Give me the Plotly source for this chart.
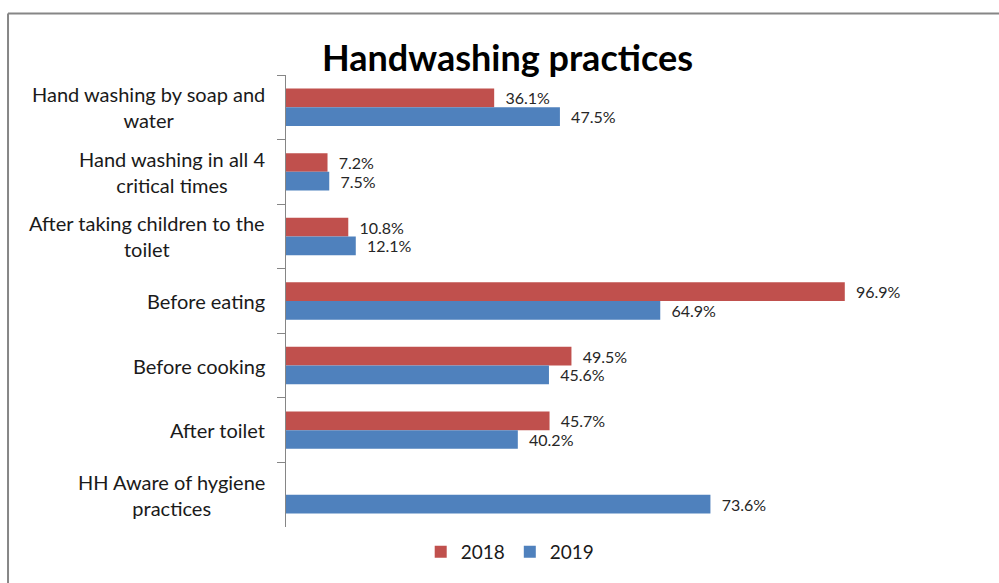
import plotly.graph_objects as go

categories = [
    "Hand washing by soap and<br>water",
    "Hand washing in all 4<br>critical times",
    "After taking children to the<br>toilet",
    "Before eating",
    "Before cooking",
    "After toilet",
    "HH Aware of hygiene<br>practices",
]
values_2018 = [36.1, 7.2, 10.8, 96.9, 49.5, 45.7, None]
values_2019 = [47.5, 7.5, 12.1, 64.9, 45.6, 40.2, 73.6]
series_names = ["2018", "2019"]
colors = ["#C0504D", "#4F81BD"]

FONT = "Lato"
NB = "\u00a0\u00a0"

T, B = 75, 52
PH = 583 - T - B

fig = go.Figure()
for name, vals, col in zip(series_names, [values_2018, values_2019], colors):
    fig.add_trace(go.Bar(
        y=categories, x=vals, name=name, orientation="h",
        marker=dict(color=col, line=dict(width=0)),
        texttemplate=NB + "%{x:.1f}%", textposition="outside",
        constraintext="none",
        textfont=dict(family=FONT, size=16, color="#262626"),
        cliponaxis=False,
    ))

annotations = []
for c in categories:
    annotations.append(dict(
        x=-0.028, xref="paper", y=c, yref="y", text=c, showarrow=False,
        xanchor="right", yanchor="middle", align="center",
        font=dict(family=FONT, size=20, color="#1a1a1a"),
    ))

fig.update_layout(
    width=999, height=583,
    margin=dict(l=286, r=21, t=T, b=B),
    paper_bgcolor="white", plot_bgcolor="white",
    barmode="group", bargap=0.42, bargroupgap=0,
    title=dict(text="<b>Handwashing practices</b>", x=0.508, xref="container",
               y=1 - 58 / 583, yref="container", xanchor="center", yanchor="middle",
               font=dict(family=FONT, size=36, color="black")),
    xaxis=dict(range=[0, 120], showgrid=False, showline=False, showticklabels=False,
               zeroline=False, ticks=""),
    yaxis=dict(autorange="reversed", showgrid=False, showline=True, linecolor="#868686",
               linewidth=1, ticks="outside", ticklen=8, tickcolor="#868686",
               tickson="boundaries", showticklabels=False),
    legend=dict(orientation="h", x=0.324, xanchor="center", y=-25 / PH, yanchor="middle",
                font=dict(family=FONT, size=19, color="#1a1a1a"),
                itemwidth=30, traceorder="normal"),
    annotations=annotations,
    shapes=[
        dict(type="line", xref="paper", yref="paper", x0=-0.4017, x1=1.2,
             y0=(583 - B - 13) / PH, y1=(583 - B - 13) / PH,
             line=dict(color="#868686", width=2)),
        dict(type="line", xref="paper", yref="paper", x0=-0.4017, x1=-0.4017,
             y0=(583 - B - 13) / PH, y1=-0.3, line=dict(color="#868686", width=2)),
    ],
    showlegend=True,
)

fig.write_html("out.html")
